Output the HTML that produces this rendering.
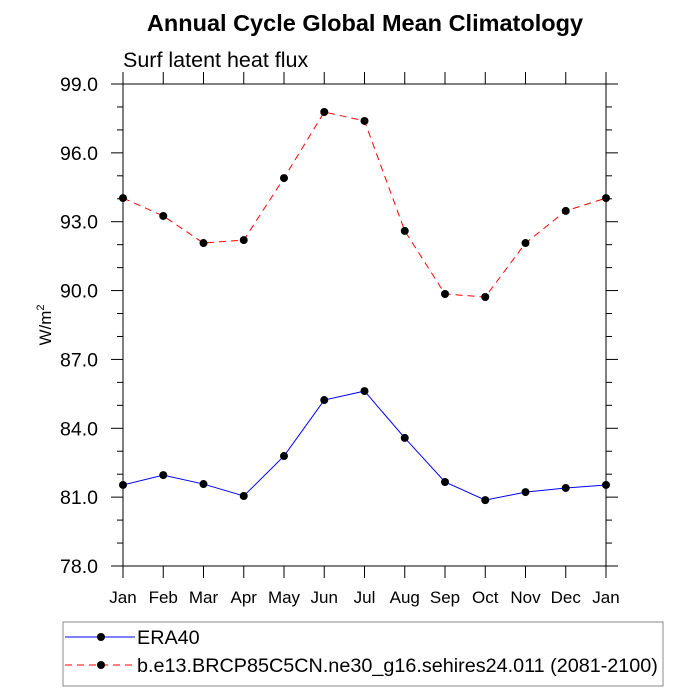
<!DOCTYPE html>
<html><head><meta charset="utf-8"><style>
body{margin:0;background:#fff;}
svg{display:block;font-family:"Liberation Sans",sans-serif;}
</style></head><body>
<svg id="chart" width="700" height="700">
<text x="365" y="31" text-anchor="middle" font-size="23.5" font-weight="bold">Annual Cycle Global Mean Climatology</text>
<text x="123" y="67" font-size="21.5">Surf latent heat flux</text>
<text transform="translate(51,325) rotate(-90)" text-anchor="middle" font-size="17">W/m<tspan dy="-7" font-size="11">2</tspan></text>
<g id="axes"></g>
<g id="series"></g>
<rect x="63" y="622" width="600" height="64" fill="none" stroke="#888"/>
<g>
<line x1="65" y1="637" x2="135" y2="637" stroke="#0000ff" stroke-width="1"/>
<circle cx="101" cy="637" r="4" fill="#000"/>
<text x="137" y="644" font-size="19.8">ERA40</text>
</g>
<g>
<line x1="65" y1="665" x2="135" y2="665" stroke="#ff0000" stroke-width="1" stroke-dasharray="7,5"/>
<circle cx="101" cy="665" r="4" fill="#000"/>
<text x="137" y="672" font-size="19.8">b.e13.BRCP85C5CN.ne30_g16.sehires24.011 (2081-2100)</text>
</g>
</svg>
<script>
const months=["Jan","Feb","Mar","Apr","May","Jun","Jul","Aug","Sep","Oct","Nov","Dec","Jan"];
const yTicks=[78,81,84,87,90,93,96,99];
const era40=[81.53,81.96,81.57,81.05,82.79,85.23,85.62,83.58,81.66,80.87,81.22,81.40,81.53];
const model=[94.03,93.25,92.07,92.2,94.9,97.78,97.39,92.6,89.85,89.72,92.07,93.47,94.03];
const NS="http://www.w3.org/2000/svg";
const L=123,R=606,T=84,B=566,ymin=78,ymax=99;
const xs=i=>L+(R-L)*i/(months.length-1);
const ys=v=>B-(v-ymin)/(ymax-ymin)*(B-T);
function mk(tag,attrs,parent){const e=document.createElementNS(NS,tag);for(const k in attrs)e.setAttribute(k,attrs[k]);parent.appendChild(e);return e;}
const ax=document.getElementById('axes');
const frame=mk('rect',{x:L,y:T,width:R-L,height:B-T,fill:'none',stroke:'#000','stroke-width':1},ax);


for(let v=ymin;v<=ymax;v+=1){
  const major=yTicks.includes(v);const len=major?12:6;const y=ys(v);
  mk('line',{x1:L-len,y1:y,x2:L,y2:y,stroke:'#000'},ax);
  mk('line',{x1:R,y1:y,x2:R+len,y2:y,stroke:'#000'},ax);
}
yTicks.forEach(v=>{
  const t=mk('text',{x:L-25,y:ys(v)+7,'text-anchor':'end','font-size':19.5},ax);
  t.textContent=v.toFixed(1);
  
  
});
months.forEach((m,i)=>{
  const x=xs(i);
  mk('line',{x1:x,y1:B,x2:x,y2:B+12,stroke:'#000'},ax);
  mk('line',{x1:x,y1:T-12,x2:x,y2:T,stroke:'#000'},ax);
  const t=mk('text',{x:x,y:B+37,'text-anchor':'middle','font-size':17},ax);
  t.textContent=m;
  
  
});
const sg=document.getElementById('series');
function drawSeries(vals,color,dash,name){
  const g=mk('g',{},sg);
  
  
  const pts=vals.map((v,i)=>xs(i)+','+ys(v)).join(' ');
  const attrs={points:pts,fill:'none',stroke:color,'stroke-width':1};
  if(dash)attrs['stroke-dasharray']=dash;
  mk('polyline',attrs,g);
  vals.forEach((v,i)=>{
    const c=mk('circle',{cx:xs(i),cy:ys(v),r:4,fill:'#000'},g);
    
    
  });
}
drawSeries(era40,'#0000ff',null,'era40-series');
drawSeries(model,'#ff0000','7,5','model-series');
</script>
</body></html>
